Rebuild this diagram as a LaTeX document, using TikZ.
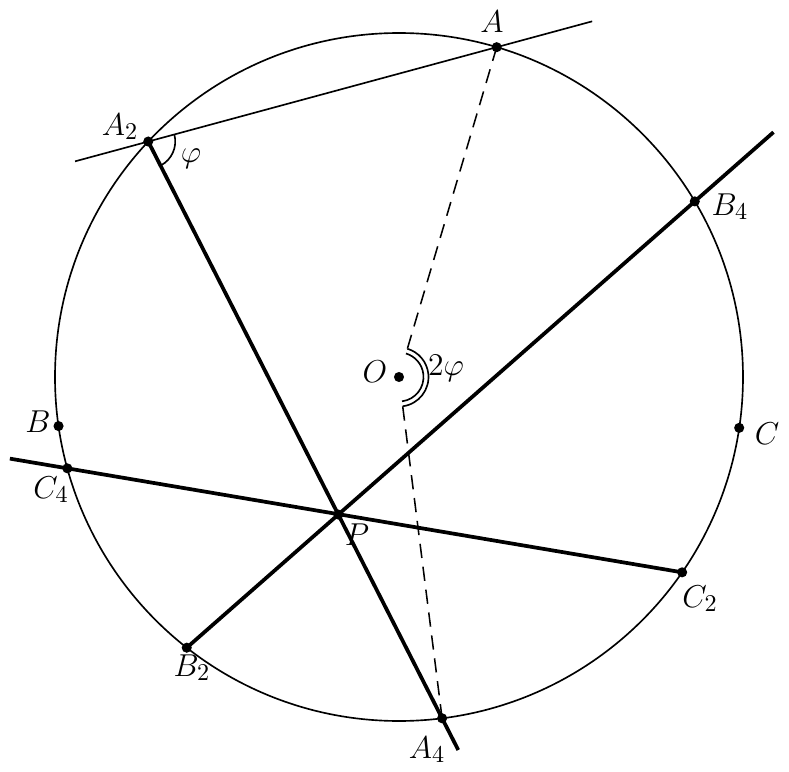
\documentclass[tikz,border=0pt]{standalone}
\usetikzlibrary{calc,intersections}
\begin{document}
\begin{tikzpicture}[x=0.455pt,y=0.455pt,
  thinline/.style={line width=0.75pt},
  thickline/.style={line width=1.7pt},
  dashline/.style={line width=0.7pt,dash pattern=on 6.5pt off 4pt},
  dot/.style={fill=black,draw=none},
  lab/.style={inner sep=0pt,anchor=base,font=\fontsize{15.5}{18}\selectfont}]
\useasboundingbox (0,0) rectangle (789,-772);
\coordinate (O) at (399,-377);
\coordinate (A) at ($(O)+(73.5:344)$);
\coordinate (A2) at ($(O)+(136.8:344)$);
\coordinate (A4) at ($(O)+(-82.8:344)$);
\coordinate (B) at ($(O)+(188.2:344)$);
\coordinate (C) at ($(O)+(-8.5:344)$);
\coordinate (B4) at ($(O)+(30.7:344)$);
\coordinate (B2) at ($(O)+(-128.1:344)$);
\coordinate (C4) at ($(O)+(195.4:344)$);
\coordinate (C2) at ($(O)+(-34.6:344)$);
\coordinate (Aend) at ($(A2)!1.055!(A4)$);
\coordinate (Bend) at ($(B2)!1.155!(B4)$);
\coordinate (Cend) at ($(C2)!1.0935!(C4)$);
\coordinate (T1) at ($(A)!1.21!(A2)$);
\coordinate (T2) at ($(A2)!1.274!(A)$);
% circle
\draw[thinline] (O) circle[radius=156.52pt];
% line through A2 and A
\draw[thinline] (T1) -- (T2);
% dashed
\draw[dashline, shorten >=13.5pt] (A) -- (O);
\draw[dashline, shorten <=13.5pt] (O) -- (A4);
% thick lines
\draw[thickline, name path=la] (A2) -- (Aend);
\draw[thickline, name path=lb] (B2) -- (Bend);
\draw[thickline] (Cend) -- (C2);
\path[name intersections={of=la and lb, by=P}];
% angle arcs
\draw[thinline] ($(A2)+(-63:27)$) arc[start angle=-63,end angle=15.1,radius=12.3pt];
\draw[thinline] ($(O)+(-82.8:24.5)$) arc[start angle=-82.8,end angle=73.5,radius=11.15pt];
\draw[thinline] ($(O)+(-82.8:29.5)$) arc[start angle=-82.8,end angle=73.5,radius=13.42pt];
% dots
\foreach \p in {A,A2,A4,B,C,B4,B2,C4,C2,P,O}
  \fill[dot] (\p) circle[radius=2.3pt];
% labels
\node[lab] (lA) at (492,-32) {$A$};
\node[lab] (lA2) at (120,-135) {$A_2$};
\node[lab] (lA4) at (427,-758) {$A_4$};
\node[lab] (lB) at (38,-432) {$B$};
\node[lab] (lB4) at (730,-215) {$B_4$};
\node[lab] (lB2) at (192,-676) {$B_2$};
\node[lab] (lC) at (767,-444) {$C$};
\node[lab] (lC4) at (51,-498) {$C_4$};
\node[lab] (lC2) at (700,-607) {$C_2$};
\node[lab] (lP) at (357,-545) {$P$};
\node[lab] (lO) at (375,-382) {$O$};
\node[lab] (lphi) at (191,-162) {$\varphi$};
\node[lab] (l2phi) at (446,-375) {$2\varphi$};
\end{tikzpicture}
\end{document}
